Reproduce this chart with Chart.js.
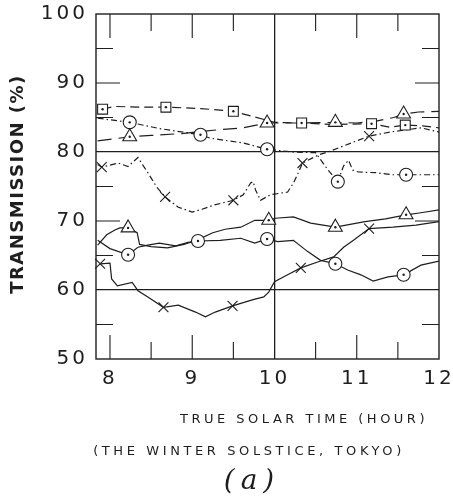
<!DOCTYPE html>
<html lang="en">
<head>
  <meta charset="UTF-8">
  <title>Transmission – winter solstice, Tokyo</title>
  <style>
    body { margin: 0; background: #fff; }
    #box { width: 453px; height: 502px; position: relative; }
  </style>
  <script src="https://cdn.jsdelivr.net/npm/chart.js"></script>
</head>
<body>
  <div id="box"><canvas id="chart"></canvas></div>
  <script>
    // axis ticks
    const hourTicks = [8, 9, 10, 11, 12];
    const pctTicks = [50, 60, 70, 80, 90, 100];
    const minorHours = [8, 8.5, 9, 9.5, 10.5, 11, 11.5];
    const minorPcts = [55, 65, 70, 75, 85, 90, 95];

    // squares, dashed
    const sqX = [7.91, 8.05, 8.4, 8.68, 9.1, 9.5, 9.75, 10.0, 10.33, 10.7, 11.18, 11.4, 11.59, 11.8, 12.0];
    const sqY = [86.2, 86.6, 86.5, 86.5, 86.3, 85.9, 85.1, 84.3, 84.2, 84.0, 84.1, 83.6, 83.9, 83.8, 83.5];
    const sqMarks = [7.91, 8.68, 9.5, 10.33, 11.18, 11.59];

    // triangles, long dashes (upper)
    const tuX = [7.85, 8.24, 8.5, 8.9, 9.3, 9.62, 9.91, 10.3, 10.74, 11.0, 11.25, 11.45, 11.57, 11.75, 12.0];
    const tuY = [81.6, 82.2, 82.4, 82.7, 83.2, 83.5, 84.2, 84.2, 84.3, 84.2, 84.5, 85.0, 85.5, 85.8, 85.9];
    const tuMarks = [8.24, 9.91, 10.74, 11.57];

    // circles, dash-dot (upper)
    const cuX = [7.85, 8.24, 8.6, 9.1, 9.22, 9.62, 9.91, 10.22, 10.5, 10.65, 10.77, 10.84, 10.9, 10.95, 11.02, 11.23, 11.44, 11.6, 12.0];
    const cuY = [84.9, 84.3, 83.4, 82.5, 82.0, 81.3, 80.4, 80.0, 79.9, 77.4, 75.7, 78.0, 78.8, 77.4, 77.1, 77.0, 76.7, 76.7, 76.7];
    const cuMarks = [8.24, 9.1, 9.91, 10.77, 11.6];

    // crosses, dash-dot (upper)
    const xuX = [7.85, 7.9, 8.1, 8.22, 8.34, 8.4, 8.46, 8.57, 8.67, 8.83, 9.0, 9.12, 9.26, 9.5, 9.62, 9.71, 9.74, 9.77, 9.83, 9.95, 10.16, 10.23, 10.29, 10.34, 10.54, 10.65, 11.15, 11.41, 11.78, 12.0];
    const xuY = [78.2, 77.8, 78.4, 77.9, 79.2, 78.1, 77.0, 74.9, 73.5, 72.0, 71.3, 71.7, 72.3, 73.0, 73.8, 75.5, 75.7, 74.5, 73.0, 73.8, 74.2, 75.5, 77.0, 78.4, 79.6, 80.0, 82.3, 82.9, 83.5, 82.9];
    const xuMarks = [7.9, 8.67, 9.5, 10.34, 11.15];

    // triangles, solid (lower)
    const tlX = [7.85, 7.96, 8.06, 8.12, 8.22, 8.33, 8.36, 8.5, 8.7, 8.9, 9.07, 9.25, 9.4, 9.59, 9.76, 9.93, 10.01, 10.23, 10.44, 10.74, 10.87, 11.1, 11.35, 11.6, 11.78, 12.0];
    const tlY = [66.5, 68.0, 68.7, 69.0, 69.0, 68.3, 66.6, 66.3, 66.1, 66.6, 67.3, 68.3, 68.8, 69.1, 70.1, 70.1, 70.4, 70.6, 69.7, 69.1, 69.4, 69.9, 70.3, 70.9, 71.2, 71.6];
    const tlMarks = [8.22, 9.93, 10.74, 11.6];

    // circles, solid (lower)
    const clX = [7.85, 8.0, 8.22, 8.34, 8.46, 8.6, 8.8, 8.95, 9.07, 9.34, 9.59, 9.76, 9.91, 10.04, 10.23, 10.4, 10.56, 10.74, 10.89, 11.05, 11.2, 11.38, 11.57, 11.78, 12.0];
    const clY = [67.2, 66.0, 65.1, 66.2, 66.5, 66.8, 66.4, 66.9, 67.1, 67.2, 67.5, 66.8, 67.4, 67.0, 67.2, 65.6, 64.3, 63.8, 62.9, 62.2, 61.3, 61.9, 62.2, 63.6, 64.2];
    const clMarks = [8.22, 9.07, 9.91, 10.74, 11.57];

    // crosses, solid (lower)
    const xlX = [7.88, 8.0, 8.02, 8.09, 8.27, 8.34, 8.46, 8.65, 8.83, 9.04, 9.16, 9.28, 9.49, 9.74, 9.87, 9.93, 10.0, 10.16, 10.32, 10.56, 10.72, 10.84, 10.96, 11.15, 11.44, 11.72, 12.0];
    const xlY = [63.8, 63.9, 61.6, 60.6, 61.1, 59.9, 59.0, 57.5, 57.8, 56.8, 56.1, 56.8, 57.7, 58.6, 59.0, 59.7, 61.2, 62.2, 63.2, 64.2, 64.8, 66.2, 67.2, 68.9, 69.1, 69.4, 69.9];
    const xlMarks = [7.88, 8.65, 9.49, 10.32, 11.15];

    const INK = '#1e1e1e';
    const DASHED = [9, 5];
    const LONGDASH = [14, 7];
    const DASHDOT = [6, 3, 1.5, 3];

    function pts(xs, ys) {
      return xs.map((x, i) => ({x: x, y: ys[i]}));
    }
    function pick(xs, ys, marks) {
      return marks.map(m => ({x: m, y: ys[xs.indexOf(m)]}));
    }
    function lineSet(xs, ys, dash) {
      return { data: pts(xs, ys), showLine: true, borderColor: INK, borderWidth: 1.2,
               borderDash: dash, pointRadius: 0, tension: 0, order: 3 };
    }
    function markSet(data, style, r) {
      return { data: data, showLine: false, pointStyle: style, pointRadius: r,
               pointBorderColor: INK, pointBackgroundColor: '#fff', pointBorderWidth: 1.1,
               clip: false, order: 2 };
    }
    function dotSet(data) {
      return { data: data, showLine: false, pointStyle: 'circle', pointRadius: 1.2,
               pointBorderWidth: 0, pointBackgroundColor: INK, clip: false, order: 1 };
    }
    // keep label overhang from moving the plot box
    function noPad(s) {
      s.paddingLeft = 0; s.paddingRight = 0; s.paddingTop = 0; s.paddingBottom = 0;
    }

    const sqM = pick(sqX, sqY, sqMarks);
    const tuM = pick(tuX, tuY, tuMarks);
    const cuM = pick(cuX, cuY, cuMarks);
    const xuM = pick(xuX, xuY, xuMarks);
    const tlM = pick(tlX, tlY, tlMarks);
    const clM = pick(clX, clY, clMarks);
    const xlM = pick(xlX, xlY, xlMarks);

    const datasets = [
      lineSet(sqX, sqY, DASHED),
      lineSet(tuX, tuY, LONGDASH),
      lineSet(cuX, cuY, DASHDOT),
      lineSet(xuX, xuY, DASHDOT),
      lineSet(tlX, tlY, []),
      lineSet(clX, clY, []),
      lineSet(xlX, xlY, []),
      markSet(sqM, 'rect', 7),
      markSet(tuM, 'triangle', 8),
      markSet(cuM, 'circle', 6.5),
      markSet(xuM, 'crossRot', 7),
      markSet(tlM, 'triangle', 8),
      markSet(clM, 'circle', 6.5),
      markSet(xlM, 'crossRot', 7),
      dotSet(sqM), dotSet(tuM), dotSet(cuM), dotSet(tlM), dotSet(clM)
    ];

    // frame, inward ticks and captions
    const framePlugin = {
      id: 'frame',
      beforeDraw(chart) { chart.ctx.letterSpacing = '3px'; },
      beforeDatasetsDraw(chart) {
        const ctx = chart.ctx, a = chart.chartArea;
        const xs = chart.scales.x, ys = chart.scales.y;
        ctx.save();
        ctx.strokeStyle = INK;
        ctx.lineWidth = 1.4;
        ctx.strokeRect(a.left, a.top, a.right - a.left, a.bottom - a.top);
        ctx.lineWidth = 1.1;
        ctx.beginPath();
        minorHours.forEach(h => {
          const px = xs.getPixelForValue(h);
          const len = Number.isInteger(h) ? 24 : 17;
          ctx.moveTo(px, a.bottom); ctx.lineTo(px, a.bottom - len);
          ctx.moveTo(px, a.top); ctx.lineTo(px, a.top + len);
        });
        minorPcts.forEach(p => {
          const py = ys.getPixelForValue(p);
          const len = p % 10 === 0 ? 24 : 17;
          ctx.moveTo(a.left, py); ctx.lineTo(a.left + len, py);
          ctx.moveTo(a.right, py); ctx.lineTo(a.right - len, py);
        });
        ctx.stroke();
        ctx.restore();
      },
      afterDraw(chart) {
        const ctx = chart.ctx;
        ctx.save();
        ctx.fillStyle = INK;
        ctx.textAlign = 'center';
        ctx.textBaseline = 'middle';

        ctx.save();
        ctx.translate(18, 184);
        ctx.rotate(-Math.PI / 2);
        ctx.letterSpacing = '1.5px';
        ctx.font = 'bold 18px "DejaVu Sans"';
        ctx.fillText('TRANSMISSION (%)', 0, 0);
        ctx.restore();

        ctx.letterSpacing = '3.5px';
        ctx.font = '13px "DejaVu Sans"';
        ctx.fillText('TRUE SOLAR TIME (HOUR)', 304, 420);
        ctx.letterSpacing = '3.6px';
        ctx.fillText('(THE WINTER SOLSTICE, TOKYO)', 249, 452);

        ctx.letterSpacing = '6px';
        ctx.font = 'italic 28px "DejaVu Serif"';
        ctx.fillText('(a)', 252, 482);
        ctx.restore();
        ctx.letterSpacing = '0px';
      }
    };

    new Chart(document.getElementById('chart'), {
      type: 'scatter',
      data: { datasets: datasets },
      options: {
        animation: false,
        responsive: true,
        maintainAspectRatio: false,
        layout: { padding: { top: 14, right: 14, left: 0, bottom: 0 } },
        plugins: { legend: { display: false }, tooltip: { enabled: false } },
        scales: {
          x: {
            type: 'linear', min: 7.83, max: 12,
            afterBuildTicks: s => { s.ticks = hourTicks.map(v => ({value: v})); },
            afterFit: s => { s.height = 143; noPad(s); },
            grid: { color: c => (c.tick && c.tick.value === 10) ? INK : 'rgba(0,0,0,0)', lineWidth: 1.3, drawTicks: false },
            border: { display: false },
            ticks: { color: INK, font: { family: 'DejaVu Sans', size: 20 }, padding: 8, maxRotation: 0, autoSkip: false }
          },
          y: {
            type: 'linear', min: 50, max: 100,
            afterBuildTicks: s => { s.ticks = pctTicks.map(v => ({value: v})); },
            afterFit: s => { s.width = 96; noPad(s); },
            grid: { color: c => (c.tick && (c.tick.value === 80 || c.tick.value === 60)) ? INK : 'rgba(0,0,0,0)', lineWidth: 1.3, drawTicks: false },
            border: { display: false },
            ticks: { color: INK, font: { family: 'DejaVu Sans', size: 20 }, padding: 8, autoSkip: false }
          }
        }
      },
      plugins: [framePlugin]
    });
  </script>
</body>
</html>
